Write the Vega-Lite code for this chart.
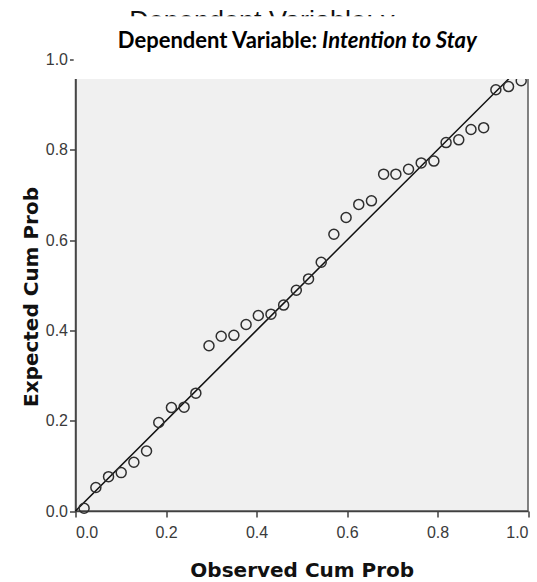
{
  "$schema": "https://vega.github.io/schema/vega-lite/v6.json",
  "autosize": "none",
  "width": 452.5,
  "height": 451.5,
  "padding": {"left": 75.5, "top": 59.5, "right": 9, "bottom": 71},
  "background": "white",
  "config": {
    "view": {"fill": "#f0f0f0", "stroke": "#5a5a5a", "strokeWidth": 1.5},
    "axis": {
      "grid": false,
      "domainColor": "#404040",
      "domainWidth": 1.5,
      "tickColor": "#404040",
      "tickWidth": 1.5,
      "tickSize": 6,
      "labelFont": "Liberation Sans",
      "labelFontSize": 16,
      "labelColor": "#3a3a3a",
      "titleFont": "DejaVu Sans",
      "titleFontWeight": "bold",
      "titleFontSize": 20,
      "titleColor": "#111111"
    }
  },
  "datasets": {
    "pp": [
      {"observed": 0.019, "expected": 0.006},
      {"observed": 0.045, "expected": 0.052},
      {"observed": 0.073, "expected": 0.076},
      {"observed": 0.101, "expected": 0.085},
      {"observed": 0.129, "expected": 0.108},
      {"observed": 0.157, "expected": 0.133},
      {"observed": 0.184, "expected": 0.196},
      {"observed": 0.212, "expected": 0.229},
      {"observed": 0.240, "expected": 0.230},
      {"observed": 0.266, "expected": 0.261},
      {"observed": 0.295, "expected": 0.366},
      {"observed": 0.322, "expected": 0.387},
      {"observed": 0.350, "expected": 0.389},
      {"observed": 0.377, "expected": 0.413},
      {"observed": 0.404, "expected": 0.433},
      {"observed": 0.432, "expected": 0.436},
      {"observed": 0.460, "expected": 0.456},
      {"observed": 0.488, "expected": 0.489},
      {"observed": 0.515, "expected": 0.514},
      {"observed": 0.543, "expected": 0.551},
      {"observed": 0.571, "expected": 0.613},
      {"observed": 0.598, "expected": 0.650},
      {"observed": 0.626, "expected": 0.679},
      {"observed": 0.654, "expected": 0.687},
      {"observed": 0.681, "expected": 0.746},
      {"observed": 0.708, "expected": 0.746},
      {"observed": 0.736, "expected": 0.757},
      {"observed": 0.764, "expected": 0.771},
      {"observed": 0.792, "expected": 0.775},
      {"observed": 0.819, "expected": 0.816},
      {"observed": 0.847, "expected": 0.822},
      {"observed": 0.874, "expected": 0.845},
      {"observed": 0.902, "expected": 0.849},
      {"observed": 0.929, "expected": 0.933},
      {"observed": 0.957, "expected": 0.940},
      {"observed": 0.985, "expected": 0.953}
    ],
    "diag": [
      {"observed": 0, "expected": 0},
      {"observed": 1, "expected": 1}
    ],
    "labels": [
      {"ghost": "Dependent Variable: y", "lead": "Dependent Variable:", "name": "Intention to Stay"}
    ]
  },
  "layer": [
    {
      "data": {"name": "diag"},
      "mark": {"type": "line", "color": "#111111", "strokeWidth": 1.5},
      "encoding": {
        "x": {"field": "observed", "type": "quantitative", "scale": {"domain": [0, 1], "nice": false},
              "axis": {"title": "Observed Cum Prob", "values": [0, 0.2, 0.4, 0.6, 0.8, 1.0], "format": ".1f", "labelPadding": 7, "titleY": 65, "titleBaseline": "alphabetic"}},
        "y": {"field": "expected", "type": "quantitative", "scale": {"domain": [0, 1], "nice": false},
              "axis": {"title": "Expected Cum Prob", "values": [0, 0.2, 0.4, 0.6, 0.8, 1.0], "format": ".1f", "labelPadding": 2, "titleX": -38, "titleY": 237, "titleBaseline": "alphabetic"}}
      }
    },
    {
      "data": {"name": "pp"},
      "mark": {"type": "point", "shape": "circle", "filled": false, "size": 100, "stroke": "#2e2e2e", "strokeWidth": 1.5, "opacity": 1},
      "encoding": {
        "x": {"field": "observed", "type": "quantitative", "scale": {"domain": [0, 1], "nice": false}},
        "y": {"field": "expected", "type": "quantitative", "scale": {"domain": [0, 1], "nice": false}}
      }
    },
    {
      "data": {"name": "labels"},
      "mark": {"type": "text", "font": "Liberation Sans", "fontSize": 27, "color": "#111111", "align": "center", "baseline": "alphabetic"},
      "encoding": {
        "text": {"field": "ghost"},
        "x": {"datum": 0.412, "scale": {"domain": [0, 1], "nice": false}},
        "y": {"datum": 1.065, "scale": {"domain": [0, 1], "nice": false}}
      }
    },
    {
      "data": {"name": "labels"},
      "mark": {"type": "rect", "color": "white"},
      "encoding": {
        "x": {"datum": -0.004, "scale": {"domain": [0, 1], "nice": false}},
        "x2": {"datum": 1.05},
        "y": {"datum": 0.957, "scale": {"domain": [0, 1], "nice": false}},
        "y2": {"datum": 1.096}
      }
    },
    {
      "data": {"name": "labels"},
      "mark": {"type": "text", "font": "Lato", "fontWeight": "bold", "fontSize": 22, "color": "#000000", "align": "right", "baseline": "alphabetic"},
      "encoding": {
        "text": {"field": "lead"},
        "x": {"datum": 0.534, "scale": {"domain": [0, 1], "nice": false}},
        "y": {"datum": 1.026, "scale": {"domain": [0, 1], "nice": false}}
      }
    },
    {
      "data": {"name": "labels"},
      "mark": {"type": "text", "font": "Lato", "fontWeight": "bold", "fontStyle": "italic", "fontSize": 22, "color": "#000000", "align": "left", "baseline": "alphabetic"},
      "encoding": {
        "text": {"field": "name"},
        "x": {"datum": 0.545, "scale": {"domain": [0, 1], "nice": false}},
        "y": {"datum": 1.026, "scale": {"domain": [0, 1], "nice": false}}
      }
    }
  ]
}
